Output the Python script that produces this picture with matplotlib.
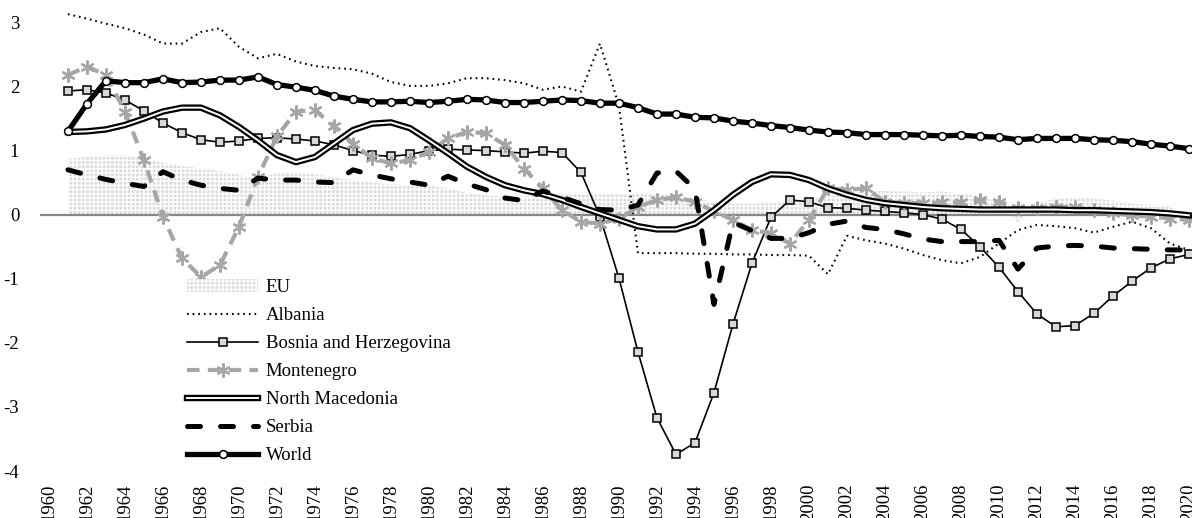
import matplotlib.pyplot as plt
import matplotlib.patheffects as pe

years = list(range(1961, 2021))

eu = [0.87, 0.90, 0.92, 0.92, 0.88, 0.81, 0.76, 0.72, 0.68, 0.62,
      0.55, 0.66, 0.65, 0.63, 0.58, 0.54, 0.50, 0.47, 0.46, 0.45,
      0.41, 0.34, 0.30, 0.28, 0.28, 0.30, 0.34, 0.34, 0.34, 0.34,
      0.33, 0.32, 0.30, 0.25, 0.20, 0.17, 0.17, 0.18, 0.20, 0.25,
      0.28, 0.32, 0.36, 0.37, 0.36, 0.35, 0.36, 0.33, 0.28, 0.20,
      -0.12, 0.20, 0.24, 0.26, 0.25, 0.22, 0.17, 0.15, 0.12, -0.05]

albania = [3.13, 3.06, 2.98, 2.91, 2.81, 2.67, 2.67, 2.85, 2.91, 2.62,
           2.44, 2.51, 2.39, 2.32, 2.29, 2.27, 2.20, 2.07, 2.01, 2.01,
           2.05, 2.13, 2.13, 2.10, 2.05, 1.95, 2.00, 1.92, 2.67, 1.70,
           -0.60, -0.60, -0.60, -0.61, -0.61, -0.62, -0.62, -0.63, -0.63, -0.64,
           -0.93, -0.33, -0.40, -0.45, -0.53, -0.63, -0.71, -0.76, -0.66, -0.45,
           -0.24, -0.16, -0.18, -0.21, -0.28, -0.19, -0.11, -0.21, -0.45, -0.55]

bosnia = [1.93, 1.95, 1.90, 1.79, 1.62, 1.43, 1.28, 1.17, 1.13, 1.15,
          1.19, 1.20, 1.18, 1.15, 1.09, 1.00, 0.93, 0.91, 0.94, 1.00,
          1.02, 1.01, 1.00, 0.98, 0.96, 0.99, 0.97, 0.66, -0.03, -0.99,
          -2.14, -3.17, -3.74, -3.56, -2.78, -1.71, -0.76, -0.04, 0.23, 0.20,
          0.11, 0.10, 0.07, 0.05, 0.03, 0.00, -0.07, -0.23, -0.50, -0.82,
          -1.20, -1.55, -1.75, -1.73, -1.54, -1.27, -1.04, -0.83, -0.69, -0.62]

montenegro = [2.18, 2.31, 2.18, 1.61, 0.85, -0.03, -0.68, -0.97, -0.79, -0.19,
              0.59, 1.22, 1.61, 1.63, 1.38, 1.11, 0.88, 0.80, 0.85, 0.98,
              1.19, 1.29, 1.27, 1.09, 0.72, 0.41, 0.07, -0.11, -0.14, -0.06,
              0.12, 0.23, 0.27, 0.20, 0.05, -0.08, -0.24, -0.29, -0.45, -0.08,
              0.41, 0.39, 0.41, 0.20, 0.18, 0.18, 0.19, 0.19, 0.23, 0.20,
              0.10, 0.10, 0.12, 0.12, 0.07, 0.02, -0.01, -0.03, -0.06, -0.08]

macedonia = [1.29, 1.30, 1.33, 1.40, 1.50, 1.61, 1.67, 1.67, 1.55, 1.37,
             1.16, 0.93, 0.82, 0.90, 1.11, 1.32, 1.42, 1.44, 1.35, 1.16,
             0.96, 0.75, 0.59, 0.46, 0.38, 0.32, 0.23, 0.12, 0.02, -0.08,
             -0.18, -0.23, -0.23, -0.14, 0.07, 0.31, 0.51, 0.63, 0.62, 0.54,
             0.41, 0.31, 0.23, 0.18, 0.15, 0.12, 0.10, 0.09, 0.08, 0.08,
             0.08, 0.08, 0.08, 0.07, 0.07, 0.06, 0.05, 0.04, 0.02, -0.01]

serbia = [0.70, 0.62, 0.55, 0.49, 0.44, 0.67, 0.54, 0.46, 0.41, 0.38,
          0.57, 0.54, 0.54, 0.51, 0.50, 0.70, 0.62, 0.56, 0.51, 0.46,
          0.60, 0.48, 0.39, 0.26, 0.22, 0.37, 0.27, 0.17, 0.08, 0.07,
          0.15, 0.65, 0.68, 0.40, -1.40, -0.12, -0.25, -0.37, -0.37, -0.28,
          -0.15, -0.10, -0.20, -0.23, -0.30, -0.38, -0.42, -0.42, -0.42, -0.40,
          -0.85, -0.52, -0.49, -0.48, -0.49, -0.52, -0.53, -0.54, -0.55, -0.55]

world = [1.30, 1.73, 2.09, 2.06, 2.06, 2.12, 2.06, 2.07, 2.10, 2.10,
         2.15, 2.03, 1.99, 1.94, 1.85, 1.80, 1.76, 1.76, 1.77, 1.75,
         1.77, 1.80, 1.79, 1.75, 1.75, 1.77, 1.79, 1.78, 1.74, 1.74,
         1.67, 1.57, 1.57, 1.52, 1.51, 1.46, 1.43, 1.39, 1.36, 1.32,
         1.29, 1.28, 1.25, 1.25, 1.25, 1.24, 1.23, 1.24, 1.22, 1.21,
         1.17, 1.19, 1.19, 1.19, 1.17, 1.16, 1.14, 1.10, 1.07, 1.03]

tick_years = list(range(1960, 2021, 2))

plt.rcParams['font.family'] = ['Liberation Serif', 'DejaVu Serif']
plt.rcParams['font.size'] = 13.5
plt.rcParams['axes.unicode_minus'] = False
plt.rcParams['hatch.linewidth'] = 1.0

fig = plt.figure(figsize=(11.92, 5.18), dpi=100)
ax = fig.add_axes([40 / 1192, 47 / 518, 1152 / 1192, 471 / 518])

# EU als gepunktete Flaeche
ax.fill_between(years, 0, eu, facecolor='#dcdcdc', edgecolor='white',
                hatch='++++', linewidth=0, label='EU', zorder=1)
ax.axhline(0, color='#868686', lw=1.6, zorder=2)

ax.plot(years, albania, color='black', lw=1.5, linestyle=(0, (0.8, 1.9)),
        label='Albania', zorder=3)
ax.plot(years, bosnia, color='black', lw=1.2, marker='s', markersize=5.2,
        markerfacecolor='#d9d9d9', markeredgecolor='black', markeredgewidth=1.1,
        label='Bosnia and Herzegovina', zorder=4)
ax.plot(years, montenegro, color='#a6a6a6', lw=3.0, linestyle=(0, (3, 2)),
        marker=(6, 2, 0), markersize=10, markeredgecolor='#a6a6a6',
        markeredgewidth=1.6, label='Montenegro', zorder=5)
ax.plot(years, macedonia, color='white', lw=1.4, label='North Macedonia', zorder=6,
        path_effects=[pe.Stroke(linewidth=4.6, foreground='black'), pe.Normal()])
ax.plot(years, serbia, color='black', lw=3.6, linestyle=(0, (2.6, 4.0)),
        dash_capstyle='round', label='Serbia', zorder=7)
ax.plot(years, world, color='black', lw=3.8, marker='o', markersize=5.6,
        markerfacecolor='white', markeredgecolor='black', markeredgewidth=1.1,
        label='World', zorder=8)

ax.set_xlim(1959.53, 2020.16)
ax.set_ylim(-4, 3.35)
ax.set_yticks(range(-4, 4))
ax.set_xticks(tick_years)
ax.set_xticklabels([str(y) for y in tick_years], rotation=90)
ax.tick_params(axis='both', length=0)
ax.tick_params(axis='y', pad=15)
ax.tick_params(axis='x', pad=9)
for s in ax.spines.values():
    s.set_visible(False)

ax.legend(loc='upper left', bbox_to_anchor=(187 / 1192, 1 - 279 / 518),
          bbox_transform=fig.transFigure, frameon=False, borderpad=0,
          borderaxespad=0, handlelength=3.8, handletextpad=0.4,
          labelspacing=0.58, fontsize=13.5)

fig.savefig('out.png', dpi=100)
